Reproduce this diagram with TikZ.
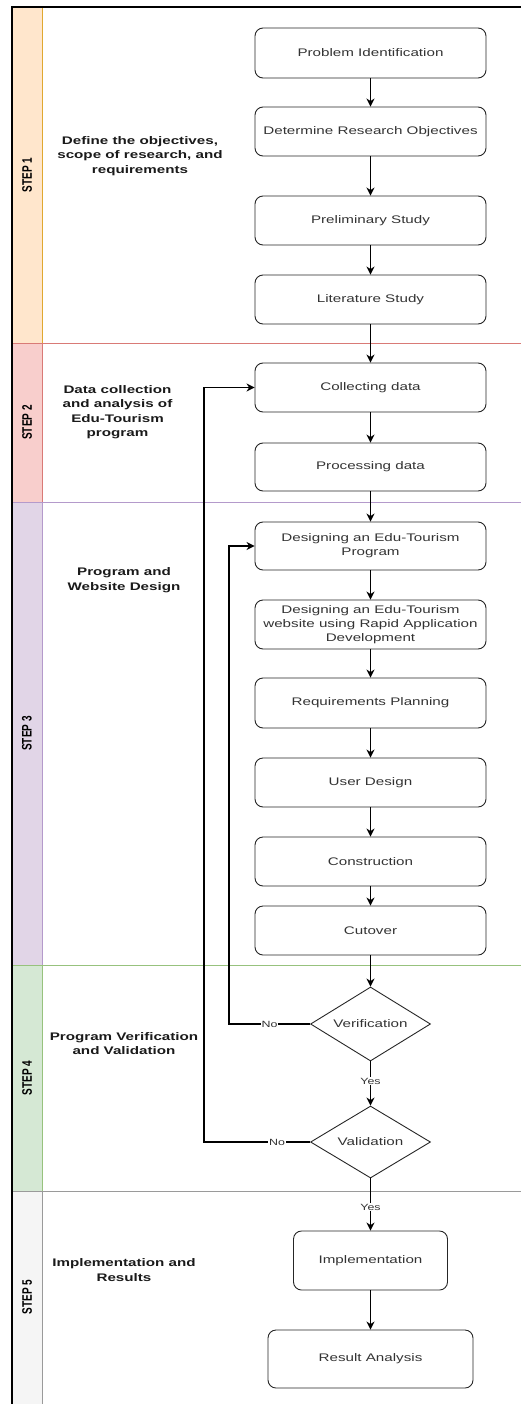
\documentclass[tikz,border=0pt]{standalone}
\usepackage{fontspec}
\setmainfont[FakeStretch=1.38]{Liberation Sans}
\newfontfamily\rotfont{Liberation Sans}
\usetikzlibrary{arrows.meta,shapes.geometric}
\definecolor{fillA}{HTML}{FFE6CC}\definecolor{strokeA}{HTML}{E0A830}
\definecolor{fillB}{HTML}{F8CECC}\definecolor{strokeB}{HTML}{D97A76}
\definecolor{fillC}{HTML}{E1D5E7}\definecolor{strokeC}{HTML}{B49ACB}
\definecolor{fillD}{HTML}{D5E8D4}\definecolor{strokeD}{HTML}{97C27D}
\definecolor{fillE}{HTML}{F5F5F5}\definecolor{strokeE}{HTML}{9A9A9A}
\definecolor{boxtext}{HTML}{333333}
\definecolor{lanetext}{HTML}{1A1A1A}
\begin{document}
\begin{tikzpicture}[x=1pt,y=-1pt,
  proc/.style={draw=black!85, rounded corners=8pt, line width=0.9pt,
    minimum width=231pt, minimum height=49pt, inner sep=2pt, align=center,
    text=boxtext, font=\fontsize{11}{13.8}\selectfont},
  dec/.style={diamond, draw=black!85, line width=0.9pt, shape aspect=1.62,
    minimum width=120pt, minimum height=74pt, inner sep=0pt,
    text=boxtext, font=\fontsize{11}{13.8}\selectfont},
  arr/.style={line width=1.2pt, -{Stealth[length=8pt,width=8pt,inset=2.5pt]}},
  lbl/.style={fill=white, inner sep=1pt, text=boxtext, font=\fontsize{9}{10}\selectfont},
  lanetxt/.style={align=center, text=lanetext, font=\bfseries\fontsize{11}{14.5}\selectfont},
  steplbl/.style={rotate=90, text=black, font=\rotfont\bfseries\fontsize{10}{12}\selectfont},
  lanepen/.style={line width=1pt}
]
\useasboundingbox (0,0) rectangle (521,1404);
\begin{scope}
\clip (0,0) rectangle (521,1404);
% lanes
\draw[strokeA, lanepen] (12,7) rectangle (540,343);
\filldraw[fill=fillA, draw=strokeA, lanepen] (12,7) rectangle (42,343);
\draw[strokeB, lanepen] (12,343) rectangle (540,502);
\filldraw[fill=fillB, draw=strokeB, lanepen] (12,343) rectangle (42,502);
\draw[strokeC, lanepen] (12,502) rectangle (540,965);
\filldraw[fill=fillC, draw=strokeC, lanepen] (12,502) rectangle (42,965);
\draw[strokeD, lanepen] (12,965) rectangle (540,1191);
\filldraw[fill=fillD, draw=strokeD, lanepen] (12,965) rectangle (42,1191);
\draw[strokeE, lanepen] (12,1191) rectangle (540,1430);
\filldraw[fill=fillE, draw=strokeE, lanepen] (12,1191) rectangle (42,1430);
% outer frame
\draw[black, line width=2pt] (12,1430) -- (12,7) -- (540,7);
\end{scope}

% step labels
\node[steplbl] (s1) at (27,175) {\scalebox{1}[1.38]{STEP 1}};
\node[steplbl] (s2) at (27,422.5) {\scalebox{1}[1.38]{STEP 2}};
\node[steplbl] (s3) at (27,733.5) {\scalebox{1}[1.38]{STEP 3}};
\node[steplbl] (s4) at (27,1078) {\scalebox{1}[1.38]{STEP 4}};
\node[steplbl] (s5) at (27,1297) {\scalebox{1}[1.38]{STEP 5}};

% lane texts
\node[lanetxt] (l1) at (140,156) {Define the objectives,\\scope of research, and\\requirements};
\node[lanetxt] (l2) at (117.5,412) {Data collection\\and analysis of\\Edu-Tourism\\program};
\node[lanetxt] (l3) at (124,580) {Program and\\Website Design};
\node[lanetxt] (l4) at (124,1043.5) {Program Verification\\and Validation};
\node[lanetxt] (l5) at (124,1270) {Implementation and\\Results};

% process nodes
\node[proc, minimum height=50pt] (p1) at (370.5,53) {Problem Identification};
\node[proc] (p2) at (370.5,131.5) {Determine Research Objectives};
\node[proc] (p3) at (370.5,220.5) {Preliminary Study};
\node[proc] (p4) at (370.5,299.5) {Literature Study};
\node[proc] (c1) at (370.5,387.5) {Collecting data};
\node[proc, minimum height=48pt] (c2) at (370.5,467) {Processing data};
\node[proc, minimum height=48pt] (d1) at (370.5,546) {Designing an Edu-Tourism\\Program};
\node[proc] (d2) at (370.5,624.5) {Designing an Edu-Tourism\\website using Rapid Application\\Development};
\node[proc, minimum height=50pt] (rp) at (370.5,703) {Requirements Planning};
\node[proc] (ud) at (370.5,782.5) {User Design};
\node[proc] (co) at (370.5,861.5) {Construction};
\node[proc] (cu) at (370.5,930.5) {Cutover};
\node[dec] (ver) at (370.5,1024) {Verification};
\node[dec, minimum height=72pt] (val) at (370.5,1142) {Validation};
\node[proc, minimum width=154pt, minimum height=59pt] (imp) at (370.5,1260.5) {Implementation};
\node[proc, minimum width=205pt, minimum height=58pt] (res) at (370.5,1359) {Result Analysis};

% connectors
\draw[arr] (p1) -- (p2);
\draw[arr] (p2) -- (p3);
\draw[arr] (p3) -- (p4);
\draw[arr] (p4) -- (c1);
\draw[arr] (c1) -- (c2);
\draw[arr] (c2) -- (d1);
\draw[arr] (d1) -- (d2);
\draw[arr] (d2) -- (rp);
\draw[arr] (rp) -- (ud);
\draw[arr] (ud) -- (co);
\draw[arr] (co) -- (cu);
\draw[arr] (cu) -- (ver);
\draw[arr] (ver) -- node[lbl, pos=0.45] {Yes} (val);
\draw[arr] (val) -- node[lbl, pos=0.55] {Yes} (imp);
\draw[arr] (imp) -- (res);
\coordinate (fb1) at (229,1024);
\coordinate (fb2) at (204,1142);
\draw[arr] (ver.west) -- node[lbl, pos=0.5] {No} (fb1) |- (d1.west);
\draw[arr] (val.west) -- node[lbl, pos=0.31] {No} (fb2) |- (c1.west);
\end{tikzpicture}
\end{document}
